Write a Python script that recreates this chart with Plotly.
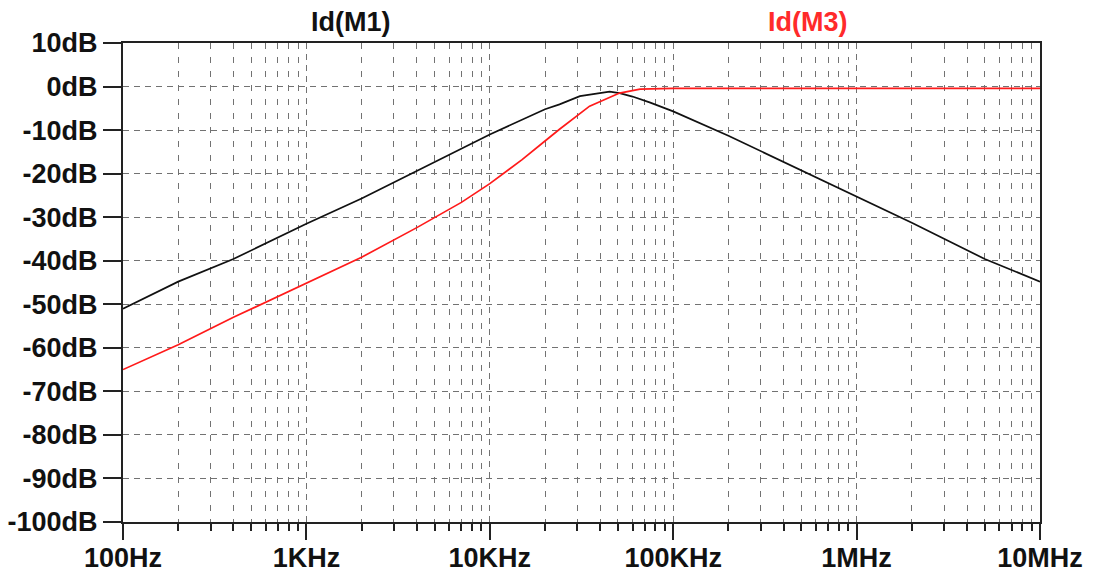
import plotly.graph_objects as go
import numpy as np

# ---- data ----
freq_m1 = [100, 200, 400, 1e3, 2e3, 4e3, 1e4, 2e4, 2.4e4, 3.1e4, 4.5e4, 5.1e4, 6e4, 7.5e4, 1e5,
           2e5, 5e5, 1e6, 2e6, 5e6, 1e7]
db_m1 = [-51.0, -44.8, -39.6, -31.5, -25.7, -19.4, -11.0, -5.2, -4.1, -2.2, -1.15, -1.5, -2.3, -3.7, -5.7,
         -11.3, -19.3, -25.3, -31.3, -39.6, -44.8]

freq_m3 = [100, 200, 400, 1e3, 2e3, 4e3, 7e3, 1e4, 1.5e4, 2e4, 2.4e4, 3.5e4, 5.1e4, 6.6e4, 8.5e4,
           1e5, 1e6, 1e7]
db_m3 = [-65.0, -59.3, -53.0, -45.2, -39.2, -32.4, -26.6, -22.3, -16.8, -12.5, -9.8, -4.5, -1.5, -0.6, -0.4,
         -0.4, -0.4, -0.4]

y_ticks = [10, 0, -10, -20, -30, -40, -50, -60, -70, -80, -90, -100]
y_labels = ["10dB", "0dB", "-10dB", "-20dB", "-30dB", "-40dB", "-50dB", "-60dB", "-70dB", "-80dB", "-90dB", "-100dB"]
x_ticks = [1e2, 1e3, 1e4, 1e5, 1e6, 1e7]
x_labels = ["100Hz", "1KHz", "10KHz", "100KHz", "1MHz", "10MHz"]
x_minor = [m * d for d in [1e2, 1e3, 1e4, 1e5, 1e6] for m in range(2, 10)]

FONT = "Liberation Sans, Arial, sans-serif"

fig = go.Figure()
fig.add_trace(go.Scatter(x=freq_m1, y=db_m1, mode="lines", name="Id(M1)",
                         line=dict(color="#111111", width=1.7)))
fig.add_trace(go.Scatter(x=freq_m3, y=db_m3, mode="lines", name="Id(M3)",
                         line=dict(color="#ff1a1a", width=1.7)))

grid = dict(showgrid=True, gridcolor="#727272", gridwidth=1.4, griddash="6px,5px")

fig.update_layout(
    width=1094, height=578,
    margin=dict(l=123, r=54, t=43, b=56),
    paper_bgcolor="white", plot_bgcolor="white",
    showlegend=False,
    font=dict(family=FONT, size=27, color="#111"),
    xaxis=dict(
        type="log", range=[2, 7], automargin=False,
        tickvals=x_ticks, ticktext=x_labels,
        ticks="outside", ticklen=16, tickwidth=2, tickcolor="#222",
        tickfont=dict(family=FONT, size=27, color="#111", weight="bold"),
        showline=True, linecolor="#222", linewidth=2, mirror=True,
        zeroline=False,
        ticklabelstandoff=-5,
        minor=dict(tickvals=x_minor, ticks="outside", ticklen=7, tickwidth=2, tickcolor="#222",
                   showgrid=True, gridcolor="#727272", gridwidth=1.4, griddash="6px,8px"),
        **grid,
    ),
    yaxis=dict(
        range=[-100, 10], automargin=False,
        tickvals=y_ticks, ticktext=y_labels,
        ticks="outside", ticklen=18, tickwidth=2, tickcolor="#222",
        tickfont=dict(family=FONT, size=27, color="#111", weight="bold"),
        showline=True, linecolor="#222", linewidth=2, mirror=True,
        zeroline=False,
        **grid,
    ),
    annotations=[
        dict(text="<b>Id(M1)</b>", x=0.2477, xref="paper", xanchor="center",
             y=1.0, yref="paper", yanchor="bottom", yshift=4, showarrow=False,
             font=dict(family=FONT, size=27, color="#111")),
        dict(text="<b>Id(M3)</b>", x=0.7469, xref="paper", xanchor="center",
             y=1.0, yref="paper", yanchor="bottom", yshift=4, showarrow=False,
             font=dict(family=FONT, size=27, color="#ff2a2a")),
    ],
)

fig.write_html("out.html")
